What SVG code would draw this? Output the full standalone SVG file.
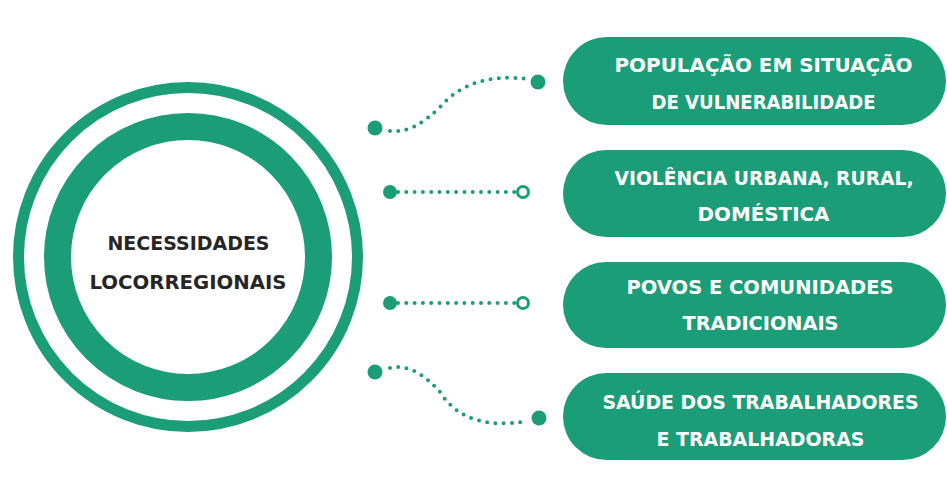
<svg xmlns="http://www.w3.org/2000/svg" width="947" height="497" viewBox="0 0 947 497">
<style>
.ring{fill:none;stroke:#1b9e77}
.pill{fill:#1b9e77}
.pt{font-family:"DejaVu Sans","Liberation Sans",sans-serif;font-weight:bold;font-size:19.5px;fill:#ffffff;text-anchor:middle}
.ct{font-family:"DejaVu Sans","Liberation Sans",sans-serif;font-weight:bold;font-size:20px;fill:#262626;text-anchor:middle}
.dots{fill:none;stroke:#1b9e77;stroke-width:4;stroke-linecap:round;stroke-dasharray:0 8.3}
.dot{fill:#1b9e77}
.open{fill:#ffffff;stroke:#1b9e77;stroke-width:3}
</style>
<rect width="947" height="497" fill="#ffffff"/>
<g id="center">
<circle class="ring" cx="188" cy="257" r="169.5" stroke-width="11"/>
<circle class="ring" cx="188" cy="257" r="130.5" stroke-width="27"/>
<text class="ct" x="188.5" y="249.5" textLength="162" lengthAdjust="spacingAndGlyphs">NECESSIDADES</text>
<text class="ct" x="188" y="289" textLength="197" lengthAdjust="spacingAndGlyphs">LOCORREGIONAIS</text>
</g>
<g id="connectors">
<path class="dots" d="M390 131 Q413 134 440 107 Q470 72 528 79"/>
<circle class="dot" cx="375" cy="128" r="7.5"/>
<circle class="dot" cx="538" cy="82" r="7.5"/>
<path class="dots" d="M398 192 L515 192"/>
<circle class="dot" cx="390" cy="192" r="7"/>
<circle class="open" cx="523" cy="192" r="5.5"/>
<path class="dots" d="M398 303 L515 303"/>
<circle class="dot" cx="390" cy="303" r="7"/>
<circle class="open" cx="523" cy="303" r="5.5"/>
<path class="dots" d="M390 368 Q413 362 440 392 Q465 432 528 421"/>
<circle class="dot" cx="375" cy="372" r="7.5"/>
<circle class="dot" cx="539" cy="418" r="7.5"/>
</g>
<g id="pill1">
<rect class="pill" x="563" y="37" width="383" height="88" rx="44"/>
<text class="pt" x="763.5" y="71.5" textLength="298" lengthAdjust="spacingAndGlyphs">POPULAÇÃO EM SITUAÇÃO</text>
<text class="pt" x="763.5" y="108.5" textLength="224" lengthAdjust="spacingAndGlyphs">DE VULNERABILIDADE</text>
</g>
<g id="pill2">
<rect class="pill" x="563" y="150" width="383" height="87" rx="43.5"/>
<text class="pt" x="764" y="185" textLength="299" lengthAdjust="spacingAndGlyphs">VIOLÊNCIA URBANA, RURAL,</text>
<text class="pt" x="763.5" y="221" textLength="132" lengthAdjust="spacingAndGlyphs">DOMÉSTICA</text>
</g>
<g id="pill3">
<rect class="pill" x="563" y="262" width="383" height="86" rx="43"/>
<text class="pt" x="760" y="293.5" textLength="267" lengthAdjust="spacingAndGlyphs">POVOS E COMUNIDADES</text>
<text class="pt" x="760.5" y="329.5" textLength="156" lengthAdjust="spacingAndGlyphs">TRADICIONAIS</text>
</g>
<g id="pill4">
<rect class="pill" x="563" y="373" width="383" height="87" rx="43.5"/>
<text class="pt" x="760.5" y="408.5" textLength="316" lengthAdjust="spacingAndGlyphs">SAÚDE DOS TRABALHADORES</text>
<text class="pt" x="760.5" y="445.5" textLength="208" lengthAdjust="spacingAndGlyphs">E TRABALHADORAS</text>
</g>
</svg>
